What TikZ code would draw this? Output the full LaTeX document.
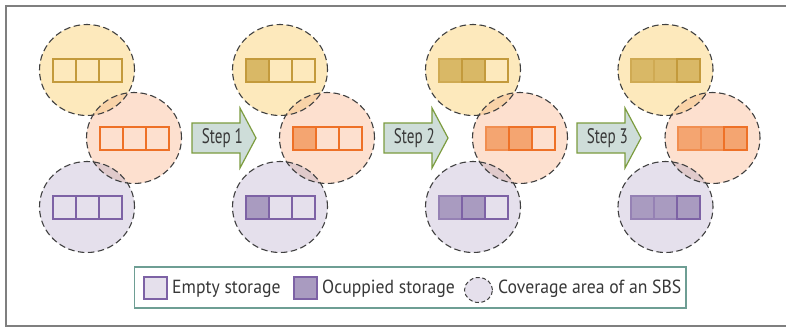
\documentclass[tikz,border=0pt]{standalone}
\usepackage{fontspec}
\setmainfont{PT Sans}
\newfontfamily\stepfont[FakeStretch=0.72]{PT Sans}
\newfontfamily\legfont[FakeStretch=0.93]{PT Sans}
\definecolor{yfill}{HTML}{FDE9BC}
\definecolor{ofill}{HTML}{FDE0CF}
\definecolor{pfill}{HTML}{E5E0EC}
\definecolor{yolens}{HTML}{F9D3A8}
\definecolor{oplens}{HTML}{E0CACB}
\definecolor{ystroke}{HTML}{C39A3C}
\definecolor{ostroke}{HTML}{EE7127}
\definecolor{pstroke}{HTML}{7D62A5}
\definecolor{yocc}{HTML}{D9B866}
\definecolor{oocc}{HTML}{F4A571}
\definecolor{pocc}{HTML}{A99BC0}
\definecolor{arrfill}{HTML}{CEDDD9}
\definecolor{arrdraw}{HTML}{7C9C3F}
\definecolor{legdraw}{HTML}{6E9E94}
\definecolor{framecol}{HTML}{7F7F7F}
\definecolor{txt}{HTML}{383838}
\begin{document}
\begin{tikzpicture}[x=1pt,y=-1pt,
  cov/.style={draw=black!75, line width=1.1pt, dash pattern=on 6.5pt off 3.5pt},
  ell/.style={x radius=47.5pt, y radius=45.5pt},
  boxE/.style={draw=#1stroke, line width=2pt},
  boxN/.style={draw=#1stroke, fill=#1occ, line width=2pt},
  boxO/.style={draw=#1stroke!45!#1occ, fill=#1occ, line width=2pt},
  stepsty/.style={draw=arrdraw, fill=arrfill, line width=1.2pt, line join=miter},
  steptext/.style={anchor=base, inner sep=0pt, text=txt, font=\stepfont\fontsize{21pt}{21pt}\selectfont},
  legtext/.style={anchor=base west, inner sep=0pt, text=txt, font=\legfont\fontsize{19pt}{19pt}\selectfont}]
\useasboundingbox (0,0) rectangle (786,327);
\fill[white] (0,0) rectangle (786,327);
\draw[framecol, line width=1.6pt] (792,6) -- (6,6) -- (6,326) -- (792,326);
% coverage areas
\foreach \g/\dx in {1/0,2/193,3/386,4/578.5}{
  \coordinate (Y\g) at (87+\dx,70);
  \coordinate (O\g) at (134+\dx,138);
  \coordinate (P\g) at (87+\dx,207);
  \fill[yfill] (Y\g) ellipse[ell];
  \fill[ofill] (O\g) ellipse[ell];
  \fill[pfill] (P\g) ellipse[ell];
  \begin{scope}
    \clip (Y\g) ellipse[ell];
    \fill[yolens] (O\g) ellipse[ell];
  \end{scope}
  \begin{scope}
    \clip (P\g) ellipse[ell];
    \fill[oplens] (O\g) ellipse[ell];
  \end{scope}
  \draw[cov] (Y\g) ellipse[ell];
  \draw[cov] (O\g) ellipse[ell];
  \draw[cov] (P\g) ellipse[ell];
}
% storage boxes
\foreach \g/\sa/\sb/\sc in {1/E/E/E,2/N/E/E,3/O/N/E,4/O/O/N}{
  \foreach \c/\C in {y/Y,o/O,p/P}{
    \foreach \s [count=\i] in {\sa,\sb,\sc}{
      \begin{scope}[shift={(\C\g)}]
        \draw[box\s=\c] (-57.5+23*\i,-11.5) rectangle +(23,23);
      \end{scope}
    }
  }
}
% step arrows
\foreach \k/\ax in {1/0,2/192,3/385}{
  \draw[stepsty] (192+\ax,123) -- (240+\ax,123) -- (240+\ax,108) -- (256+\ax,138)
     -- (240+\ax,168) -- (240+\ax,153) -- (192+\ax,153) -- cycle;
  \node[steptext] (step\k) at (222.4+\ax,143) {Step \k};
}
% legend
\node[draw=legdraw, line width=1.2pt, fill=white, minimum width=551.5pt, minimum height=41pt, inner sep=0pt] (legend) at (410.25,287.5) {};
\draw[pstroke, fill=pfill, line width=2pt] (143.5,277) rectangle (166.5,299);
\node[legtext] (lempty) at (172,293.3) {Empty storage};
\draw[pstroke, fill=pocc, line width=2pt] (293.5,277) rectangle (316.5,299);
\node[legtext] (locc) at (322,293.3) {Ocuppied storage};
\draw[fill=pfill, draw=black!75, line width=1pt, dash pattern=on 4pt off 2.5pt] (478.5,290) ellipse[x radius=14pt, y radius=12.5pt];
\node[legtext] (lcov) at (498,293.3) {Coverage area of an SBS};
\end{tikzpicture}
\end{document}
